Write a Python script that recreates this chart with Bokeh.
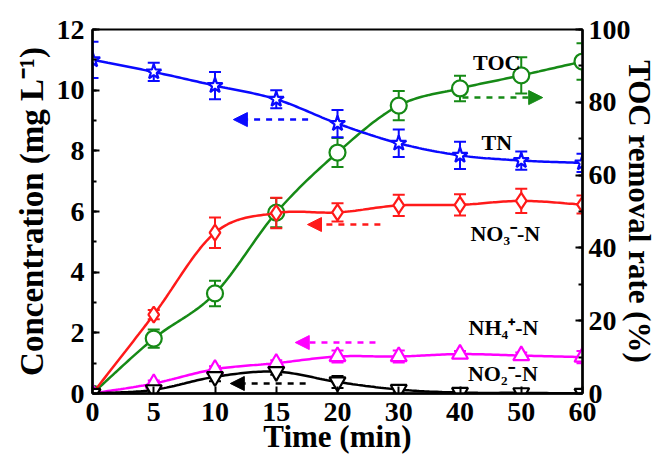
from bokeh.plotting import figure
from bokeh.models import (Range1d, LinearAxis, FixedTicker, Whisker, ColumnDataSource,
                          Arrow, NormalHead, Label, TeeHead)
from bokeh.embed import file_html
from bokeh.resources import INLINE

# Sampling times (min); plotted at evenly spaced positions
time_min = [0, 5, 10, 15, 20, 30, 40, 50, 60]

# Nitrogen species (mg/L)
tn = [11.0, 10.6, 10.15, 9.7, 8.9, 8.25, 7.85, 7.68, 7.6]
tn_err = [0.6, 0.3, 0.45, 0.3, 0.45, 0.45, 0.45, 0.3, 0.3]
no3 = [0.0, 2.6, 5.3, 5.95, 5.97, 6.2, 6.22, 6.35, 6.23]
no3_err = [0.05, 0.15, 0.5, 0.5, 0.3, 0.35, 0.35, 0.4, 0.3]
nh4 = [0.0, 0.33, 0.8, 1.0, 1.22, 1.22, 1.3, 1.25, 1.2]
nh4_err = [0.05, 0.1, 0.1, 0.1, 0.2, 0.2, 0.1, 0.1, 0.2]
no2 = [0.0, 0.12, 0.55, 0.72, 0.38, 0.13, 0.03, 0.02, 0.0]
no2_err = [0.02, 0.1, 0.15, 0.1, 0.2, 0.1, 0.05, 0.05, 0.05]

# TOC removal rate (%)
toc = [0.0, 15.1, 27.5, 49.7, 66.2, 79.1, 83.8, 87.4, 91.2]
toc_err = [0.5, 2.5, 3.5, 4.0, 4.0, 4.0, 3.5, 5.0, 5.0]

FONT = "Liberation Serif"
pos = list(range(len(time_min)))


def smooth(ys, steps=24):
    """Catmull-Rom curve through the points, for drawing the connecting line."""
    n = len(ys)
    px, py = [], []
    for i in range(n - 1):
        y0 = ys[i - 1] if i > 0 else 2 * ys[i] - ys[i + 1]
        y1, y2 = ys[i], ys[i + 1]
        y3 = ys[i + 2] if i + 2 < n else 2 * ys[i + 1] - ys[i]
        for k in range(steps):
            t = k / steps
            t2, t3 = t * t, t * t * t
            yy = 0.5 * ((2 * y1) + (-y0 + y2) * t + (2 * y0 - 5 * y1 + 4 * y2 - y3) * t2
                        + (-y0 + 3 * y1 - 3 * y2 + y3) * t3)
            px.append(pos[i] + t)
            py.append(yy)
    px.append(pos[-1])
    py.append(ys[-1])
    return px, py


p = figure(width=659, height=459, output_backend="svg", toolbar_location=None,
           x_range=Range1d(0, 8), y_range=Range1d(0, 12),
           min_border_left=92, min_border_right=77, min_border_top=29, min_border_bottom=66)
p.extra_y_ranges = {"toc": Range1d(0, 100)}
p.grid.visible = False
p.outline_line_color = "black"
p.outline_line_width = 2
p.background_fill_color = "white"
p.border_fill_color = "white"

right = LinearAxis(y_range_name="toc")
p.add_layout(right, "right")

for ax in p.axis:
    ax.axis_line_width = 2.5
    ax.major_tick_in = 7
    ax.major_tick_out = 0
    ax.minor_tick_in = 4
    ax.minor_tick_out = 0
    ax.major_tick_line_width = 2
    ax.minor_tick_line_width = 2
    ax.major_label_text_font = FONT
    ax.major_label_text_font_style = "bold"
    ax.major_label_text_font_size = "28px"
    ax.major_label_text_color = "black"
    ax.axis_label_text_font = FONT
    ax.axis_label_text_font_style = "bold"
    ax.axis_label_text_font_size = "31px"
    ax.axis_label_text_color = "black"

p.xaxis.ticker = FixedTicker(ticks=pos)
p.xaxis.major_label_overrides = {i: str(t) for i, t in zip(pos, time_min)}
p.xaxis.axis_label = "Time (min)"
p.xaxis.major_label_standoff = 9
p.xaxis.axis_label_standoff = -5

p.yaxis[0].ticker = FixedTicker(ticks=[0, 2, 4, 6, 8, 10, 12], minor_ticks=list(range(13)))
p.yaxis[0].axis_label = "Concentration (mg L\u207b\u00b9)"
p.yaxis[0].axis_label_text_font_size = "33px"
p.yaxis[0].major_label_standoff = 8
p.yaxis[0].axis_label_standoff = 4

right.ticker = FixedTicker(ticks=[0, 20, 40, 60, 80, 100], minor_ticks=list(range(0, 101, 10)))
right.axis_label = "TOC removal rate (%)"
right.major_label_standoff = 6
right.axis_label_standoff = -12


def series(vals, errs, color, marker, range_name="default"):
    src = ColumnDataSource(dict(x=pos, y=vals,
                                lo=[v - e for v, e in zip(vals, errs)],
                                hi=[v + e for v, e in zip(vals, errs)]))
    sx, sy = smooth(vals)
    p.line(sx, sy, line_color=color, line_width=2.5, y_range_name=range_name)
    w = Whisker(base="x", lower="lo", upper="hi", source=src, line_color=color, line_width=2,
                lower_head=TeeHead(size=12, line_color=color, line_width=2),
                upper_head=TeeHead(size=12, line_color=color, line_width=2),
                y_range_name=range_name)
    p.add_layout(w)
    p.scatter("x", "y", source=src, marker=marker, size=16, fill_color="white",
              line_color=color, line_width=2.2, y_range_name=range_name)


series(toc, toc_err, "#168a16", "circle", "toc")
series(no3, no3_err, "#ff1a1a", "diamond")
series(nh4, nh4_err, "#ff00ff", "triangle")
series(no2, no2_err, "black", "inverted_triangle")
series(tn, tn_err, "#0a0aff", "star")


def arrow(x0, x1, y, color, range_name="default"):
    p.add_layout(Arrow(x_start=x0, x_end=x1, y_start=y, y_end=y, line_color=color,
                       line_width=2.5, line_dash="dashed", y_range_name=range_name,
                       end=NormalHead(size=14, fill_color=color, line_color=color)))


arrow(3.52, 2.3, 9.03, "#0a0aff")
arrow(4.7, 3.51, 5.57, "#ff1a1a")
arrow(4.62, 3.31, 1.68, "#ff00ff")
arrow(3.48, 2.25, 0.33, "black")
arrow(6.04, 7.35, 81.3, "#168a16", "toc")


def label(x, y, txt):
    p.add_layout(Label(x=x, y=y, text=txt, text_font=FONT, text_font_style="bold",
                       text_font_size="22px", text_align="center", text_baseline="middle",
                       text_color="black"))


label(6.6, 10.9, "TOC")
label(6.6, 8.28, "TN")
label(6.74, 5.28, "NO\u2083\u207b-N")
label(6.71, 2.18, "NH\u2084\u207a-N")
label(6.7, 0.66, "NO\u2082\u207b-N")

open("out.html", "w").write(file_html(p, INLINE))
